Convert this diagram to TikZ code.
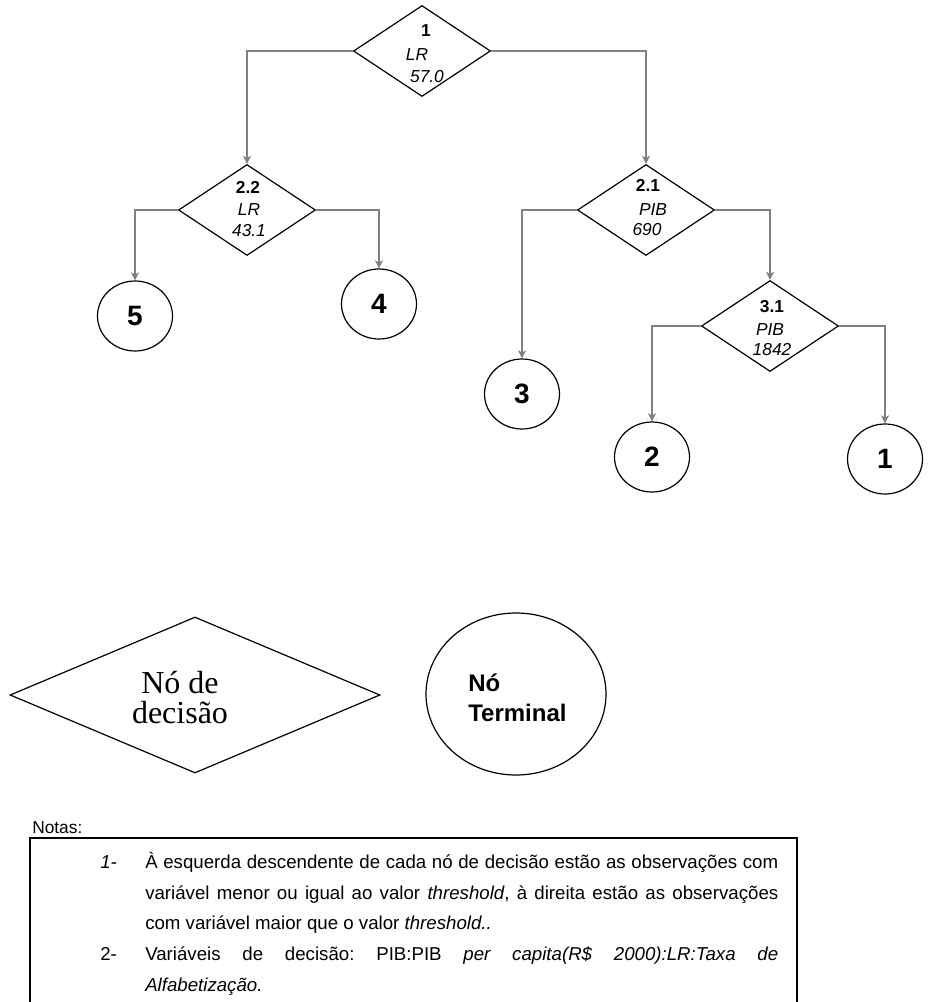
\documentclass[tikz,border=0pt]{standalone}
\usepackage{fontspec}
\setmainfont{Liberation Sans}
\newfontfamily\timesf{Liberation Serif}
\usetikzlibrary{shapes.geometric,arrows.meta}
\definecolor{conngray}{RGB}{128,128,128}
\frenchspacing
\begin{document}
\begin{tikzpicture}[x=0.75pt,y=-0.75pt,
  dec/.style={draw=black, line width=0.9pt, shape=diamond, minimum width=137*0.75pt, minimum height=91*0.75pt, inner sep=0pt},
  term/.style={draw=black, line width=0.9pt, ellipse, minimum width=75*0.75pt, minimum height=70*0.75pt, inner sep=0pt, font=\fontsize{21}{24}\selectfont\bfseries},
  lab/.style={inner sep=0pt, font=\fontsize{13}{14}\selectfont},
  labb/.style={lab, font=\fontsize{13}{14}\selectfont\bfseries},
  labi/.style={lab, font=\fontsize{13}{14}\selectfont\itshape},
  conn/.style={draw=conngray, line width=0.9pt, -{Stealth[length=6pt,width=6pt,inset=1.5pt]}},
  note/.style={inner sep=0pt, anchor=base west, font=\fontsize{14}{16}\selectfont}]
\useasboundingbox (0,0) rectangle (930,1002);

% decision nodes
\node[dec] (d1) at (422,51) {};
\node[labb] (d1a) at (426,31) {1};
\node[labi] (d1b) at (417,55) {LR};
\node[labi] (d1c) at (427,77) {57.0};

\node[dec] (d22) at (247,210) {};
\node[labb] (d22a) at (248,187) {2.2};
\node[labi] (d22b) at (249,210) {LR};
\node[labi] (d22c) at (249,231) {43.1};

\node[dec] (d21) at (646,210) {};
\node[labb] (d21a) at (648,185) {2.1};
\node[labi] (d21b) at (653,210) {PIB};
\node[labi] (d21c) at (647,230) {690};

\node[dec] (d31) at (770,326) {};
\node[labb] (d31a) at (772,307) {3.1};
\node[labi] (d31b) at (770,330) {PIB};
\node[labi] (d31c) at (772,350) {1842};

% terminal nodes
\node[term] (c5) at (135,316) {5};
\node[term] (c4) at (379,304) {4};
\node[term] (c3) at (522,394) {3};
\node[term] (c2) at (652,457) {2};
\node[term] (c1) at (885,459) {1};

% connectors
\draw[conn] (d1.west) -| (d22.north);
\draw[conn] (d1.east) -| (d21.north);
\draw[conn] (d22.west) -| (c5.north);
\draw[conn] (d22.east) -| (c4.north);
\draw[conn] (d21.west) -| (c3.north);
\draw[conn] (d21.east) -| (d31.north);
\draw[conn] (d31.west) -| (c2.north);
\draw[conn] (d31.east) -| (c1.north);

% legend
\node[draw=black, line width=0.9pt, shape=diamond, minimum width=370*0.75pt, minimum height=156*0.75pt, inner sep=0pt] (ld) at (195,695) {};
\node[inner sep=0pt, align=center, font=\timesf\fontsize{24}{22.5}\selectfont] (ldt) at (180,698) {Nó de\\decisão};
\node[draw=black, line width=0.9pt, ellipse, minimum width=180*0.75pt, minimum height=162*0.75pt, inner sep=0pt] (lt) at (516,694) {};
\node[inner sep=0pt, align=left, anchor=west, font=\fontsize{18}{22.5}\selectfont\bfseries] (ltt) at (468,698) {Nó\\Terminal};

% notes
\node[note, font=\fontsize{13}{15}\selectfont] (notas) at (32,833) {Notas:};
\draw[line width=0.9pt] (30,1004) |- (797,838) -- (797,1004);
\node[note] (n1) at (100,868) {\textit{1-}};
\node[note] (l1) at (145,868) {\makebox[474.75pt][s]{À esquerda descendente de cada nó de decisão estão as observações com}};
\node[note] (l2) at (145,899) {\makebox[474.75pt][s]{variável menor ou igual ao valor \textit{threshold}, à direita estão as observações}};
\node[note] (l3) at (145,929) {com variável maior que o valor \textit{threshold..}};
\node[note] (n2) at (100,960) {2-};
\node[note] (l4) at (145,960) {\makebox[474.75pt][s]{Variáveis de decisão: PIB:PIB \textit{per capita(R\$ 2000):LR:Taxa de}}};
\node[note] (l5) at (145,991) {\textit{Alfabetização.}};
\end{tikzpicture}
\end{document}
